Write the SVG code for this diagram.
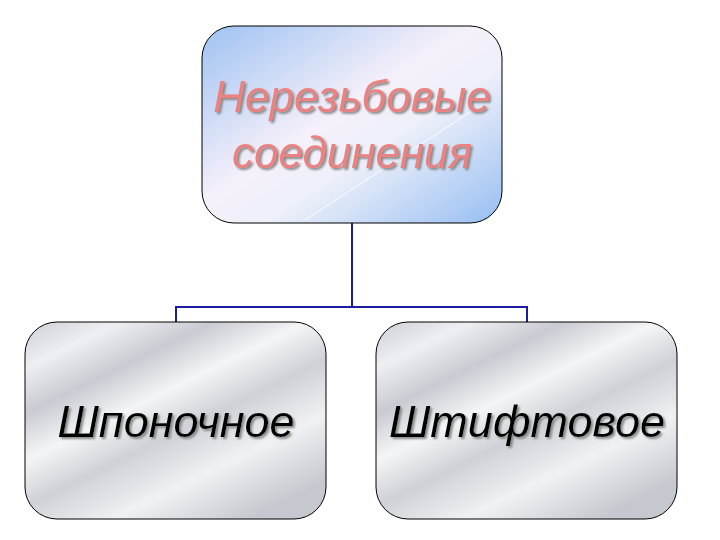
<svg xmlns="http://www.w3.org/2000/svg" width="720" height="540" viewBox="0 0 720 540">
<defs>
<linearGradient id="blue" x1="0" y1="0" x2="1" y2="1">
<stop offset="0" stop-color="#9ec2f2"/>
<stop offset="0.45" stop-color="#f6f0fa"/>
<stop offset="0.6" stop-color="#eef0fa"/>
<stop offset="1" stop-color="#96bef2"/>
</linearGradient>
<linearGradient id="silver" x1="0" y1="0" x2="0.75" y2="1">
<stop offset="0" stop-color="#cdcfd5"/>
<stop offset="0.15" stop-color="#eeeff3"/>
<stop offset="0.3" stop-color="#c9cbd2"/>
<stop offset="0.45" stop-color="#f4f5f7"/>
<stop offset="0.6" stop-color="#cfd1d7"/>
<stop offset="0.78" stop-color="#f0f1f4"/>
<stop offset="1" stop-color="#c6c8cf"/>
</linearGradient>
<filter id="sh" x="-10%" y="-10%" width="120%" height="130%">
<feGaussianBlur in="SourceAlpha" stdDeviation="1"/>
<feOffset dx="2" dy="2" result="b"/>
<feFlood flood-color="#888888"/>
<feComposite in2="b" operator="in"/>
<feMerge><feMergeNode/><feMergeNode in="SourceGraphic"/></feMerge>
</filter>
</defs>
<style>
.box{stroke:#000;stroke-width:1}
.conn{fill:none;stroke:#1c1c9c;stroke-width:2}
.t{font-family:"Liberation Sans",Arial,sans-serif;font-style:italic;text-anchor:middle}
.top{fill:#ea8282;font-size:44px}
.bot{fill:#000;font-size:45px}
</style>
<rect width="720" height="540" fill="#fff"/>
<g id="connectors">
<polyline class="conn" points="352,223 352,307"/>
<polyline class="conn" points="176,322 176,307 527,307 527,322"/>
</g>
<g id="root">
<rect class="box" x="202" y="26" width="300" height="197" rx="32" fill="url(#blue)"/>
<line x1="305" y1="220" x2="470" y2="112" stroke="#ffffff" stroke-width="1" opacity="0.9"/>
<text class="t top" x="352" y="112" filter="url(#sh)">Нерезьбовые</text>
<text class="t top" x="352" y="168" filter="url(#sh)">соединения</text>
</g>
<g id="n1">
<rect class="box" x="25" y="322" width="301" height="197" rx="32" fill="url(#silver)"/>
<text class="t bot" x="176" y="437" filter="url(#sh)">Шпоночное</text>
</g>
<g id="n2">
<rect class="box" x="376" y="322" width="301" height="197" rx="32" fill="url(#silver)"/>
<text class="t bot" x="527" y="437" filter="url(#sh)">Штифтовое</text>
</g>
</svg>
